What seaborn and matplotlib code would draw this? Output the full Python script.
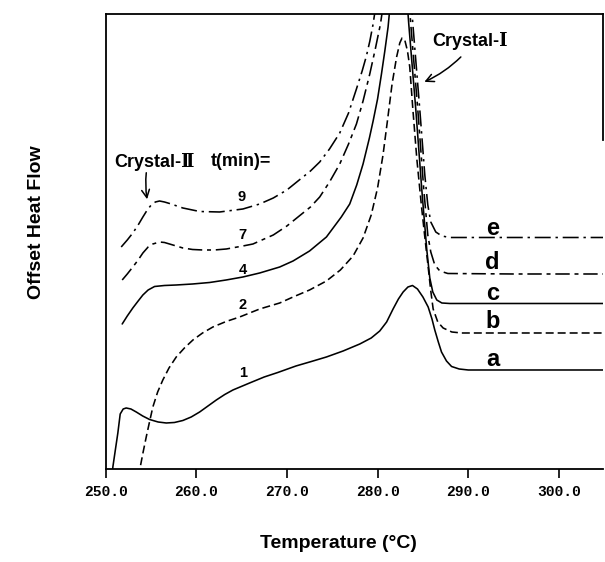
import matplotlib
matplotlib.use("Agg")
import matplotlib.pyplot as plt
import pandas as pd
import seaborn as sns

# DSC heating scans after isothermal holds of t minutes; curves offset vertically
curve_ids = ["a", "b", "c", "d", "e"]
hold_times = ["1", "2", "4", "7", "9"]

a_temp = [250.65, 250.81, 251.10, 251.36, 251.62, 251.95, 252.28, 252.80, 253.39, 254.10,
          254.86, 255.80, 256.70, 257.60, 258.53, 259.45, 260.38, 261.30, 262.22, 263.15,
          264.05, 265.89, 267.50, 269.00, 271.00, 272.70, 274.36, 276.20, 278.04, 279.30,
          280.24, 281.00, 281.71, 282.30, 282.82, 283.35, 283.85, 284.40, 285.00, 285.58,
          286.00, 286.31, 286.70, 287.05, 287.60, 288.16, 289.00, 290.00, 295.00, 304.86]
a_heat = [-15, 2, 20, 36, 55, 60, 61, 60, 57, 53,
          49.5, 47, 46, 46.5, 48.5, 52, 57, 63, 69, 74.5,
          79, 86, 92, 96.5, 103, 107.5, 112, 118, 125, 131,
          138, 147, 160, 170, 177, 182, 183.5, 180, 172, 162,
          150, 139, 127, 117, 108, 102.5, 100, 99, 99, 99]

b_temp = [253.60, 253.83, 254.15, 254.49, 254.85, 255.22, 255.75, 256.32, 257.00, 257.80,
          258.70, 259.64, 260.70, 261.84, 263.30, 264.79, 267.00, 269.21, 270.68, 272.50,
          274.36, 275.90, 277.30, 278.40, 279.30, 280.00, 280.60, 281.10, 281.60, 282.10,
          282.45, 282.70, 283.00, 283.30, 283.55, 283.89, 284.33, 284.85, 285.21, 285.58,
          285.87, 286.13, 286.64, 287.23, 288.19, 289.26, 295.00, 304.86]
b_heat = [-20, 2, 17, 32, 47, 62, 77, 89, 101, 112,
          121, 129, 136, 142, 147.5, 152, 160, 166, 172, 179,
          188, 199, 213, 231, 254, 281, 314, 349, 385, 412,
          426, 431, 429, 418, 402, 360, 310, 262, 232, 202,
          178, 160, 147, 141, 137, 136, 136, 136]

c_temp = [251.84, 252.40, 253.01, 253.60, 254.12, 254.70, 255.41, 256.50, 257.80, 259.60,
          261.48, 263.30, 265.15, 267.00, 269.21, 270.68, 272.50, 274.36, 276.00, 276.93,
          277.70, 278.40, 279.10, 279.51, 280.00, 280.43, 280.80, 281.16, 281.50, 282.00,
          282.50, 283.00, 283.44, 284.22, 284.88, 285.43, 285.76, 286.09, 286.53, 287.09,
          287.97, 295.00, 304.86]
c_heat = [145, 153, 161, 168, 174, 179, 182.5, 183.5, 184, 185,
          186.5, 189, 192, 196, 202, 208, 218, 232, 252, 265,
          284, 305, 331, 348, 370, 395, 418, 442, 475, 515,
          530, 500, 445, 359, 279, 219, 191, 177, 169, 166,
          165.5, 165.5, 165.5]

d_temp = [251.84, 252.40, 253.01, 253.60, 254.12, 254.70, 255.22, 255.96, 256.50, 257.06,
          258.53, 259.60, 260.74, 262.00, 263.32, 265.15, 266.26, 267.00, 268.50, 270.00,
          271.50, 272.60, 273.62, 274.70, 275.83, 276.80, 277.67, 278.40, 279.14, 279.75,
          280.32, 280.80, 281.30, 282.00, 282.70, 283.20, 283.66, 284.44, 285.10, 285.54,
          285.87, 286.31, 286.87, 287.75, 295.00, 304.86]
d_heat = [189, 195, 202, 209, 216, 222, 225, 227, 226.5, 225,
          221, 219.5, 219, 219, 220, 223, 225, 228, 234, 243,
          254, 262, 272, 287, 305, 325, 345, 368, 395, 420,
          445, 475, 520, 555, 560, 503, 445, 359, 279, 234,
          217, 204, 198, 195.5, 195, 195]

e_temp = [251.73, 252.40, 253.01, 253.60, 254.12, 254.60, 255.04, 255.50, 255.96, 256.50,
          257.06, 258.53, 260.38, 262.58, 265.15, 267.00, 268.50, 270.00, 271.50, 272.60,
          273.62, 274.70, 275.83, 276.80, 277.67, 278.30, 278.77, 279.15, 279.51, 280.00,
          280.60, 281.50, 282.50, 283.40, 283.89, 284.66, 285.21, 285.54, 285.87, 286.42,
          287.09, 287.97, 295.00, 304.86]
e_heat = [222, 229, 236, 244, 252, 259, 264, 267, 268, 267,
          265.5, 261, 257.5, 257, 260, 265, 271, 279, 290, 298,
          307, 320, 336, 356, 380, 398, 413, 428, 445, 475,
          535, 580, 600, 505, 445, 359, 294, 264, 247, 237,
          233, 231.5, 231.5, 231.5]

temps = [a_temp, b_temp, c_temp, d_temp, e_temp]
heats = [a_heat, b_heat, c_heat, d_heat, e_heat]

tick_values = [250, 260, 270, 280, 290, 300]
tick_labels = ["250.0", "260.0", "270.0", "280.0", "290.0", "300.0"]

# label anchor points (temperature, offset heat flow)
time_label_temp = [265.23, 265.12, 265.12, 265.12, 265.01]
time_label_heat = [96, 164, 199, 234, 272]
letter_temp = 292.7
letter_heat = [109, 147, 175, 206, 240]

frames = [pd.DataFrame({"Temperature": T, "HeatFlow": h, "curve": cid})
          for cid, T, h in zip(curve_ids, temps, heats)]
df = pd.concat(frames, ignore_index=True)

sns.set_theme(style="white")
plt.rcParams["font.family"] = ["Liberation Sans", "DejaVu Sans"]
plt.rcParams["text.color"] = "black"
plt.rcParams["axes.labelcolor"] = "black"
plt.rcParams["xtick.color"] = "black"

dash_map = {"a": "", "b": (5, 2.5), "c": "", "d": (9, 3, 2.5, 3), "e": (10, 3, 1.5, 3)}

fig = plt.figure(figsize=(6.05, 5.62), dpi=100)
ax = fig.add_axes([0.1744, 0.1655, 0.8223, 0.8096])

sns.lineplot(data=df, x="Temperature", y="HeatFlow", style="curve", style_order=curve_ids,
             dashes=dash_map, color="black", linewidth=1.15, estimator=None, sort=False,
             legend=False, ax=ax)

ax.set_xlim(250, 304.86)
ax.set_ylim(0, 455)
ax.set_yticks([])
ax.set_xticks(tick_values)
ax.set_xticklabels(tick_labels, fontfamily="Liberation Mono", fontweight="bold", fontsize=10.5,
                   color="black")
ax.tick_params(axis="x", direction="out", length=6.5, width=1.2, pad=5, bottom=True, colors="black")
ax.set_xlabel("")
ax.set_ylabel("")

for side in ["left", "bottom", "top", "right"]:
    ax.spines[side].set_color("black")
    ax.spines[side].set_linewidth(1.3)
ax.spines["right"].set_bounds(329, 455)

# hold-time numbers on the left branch of each curve
for tt, tx, ty in zip(hold_times, time_label_temp, time_label_heat):
    ax.text(tx, ty, tt, ha="center", va="center", fontsize=10.5, fontweight="bold", color="black")

# curve letters above the baselines
for cid, ty in zip(curve_ids, letter_heat):
    ax.text(letter_temp, ty, cid, ha="center", va="center", fontsize=17, fontweight="bold",
            color="black")

ax.text(264.9, 307, "t(min)=", ha="center", va="center", fontsize=13, fontweight="bold",
        color="black")
ax.text(255.35, 307, "Crystal-Ⅱ", ha="center", va="center", fontsize=13, fontweight="bold",
        color="black", family=["Liberation Sans", "DejaVu Serif"])
ax.text(290.23, 428, "Crystal-Ⅰ", ha="center", va="center", fontsize=13, fontweight="bold",
        color="black", family=["Liberation Sans", "DejaVu Serif"])

ax.annotate("", xy=(254.64, 267), xytext=(254.53, 299),
            arrowprops=dict(arrowstyle="->", color="black", lw=1.1,
                            connectionstyle="arc3,rad=0.08", mutation_scale=14))
ax.annotate("", xy=(284.88, 386), xytext=(289.40, 414),
            arrowprops=dict(arrowstyle="->", color="black", lw=1.1,
                            connectionstyle="arc3,rad=-0.1", mutation_scale=14))

fig.text(338 / 605, 1 - 543 / 562, "Temperature (°C)", ha="center", va="center",
         fontsize=14, fontweight="bold", color="black")
fig.text(37 / 605, 1 - 222 / 562, "Offset Heat Flow", ha="center", va="center",
         rotation=90, fontsize=14, fontweight="bold", color="black")

fig.savefig("out.png", dpi=100)
